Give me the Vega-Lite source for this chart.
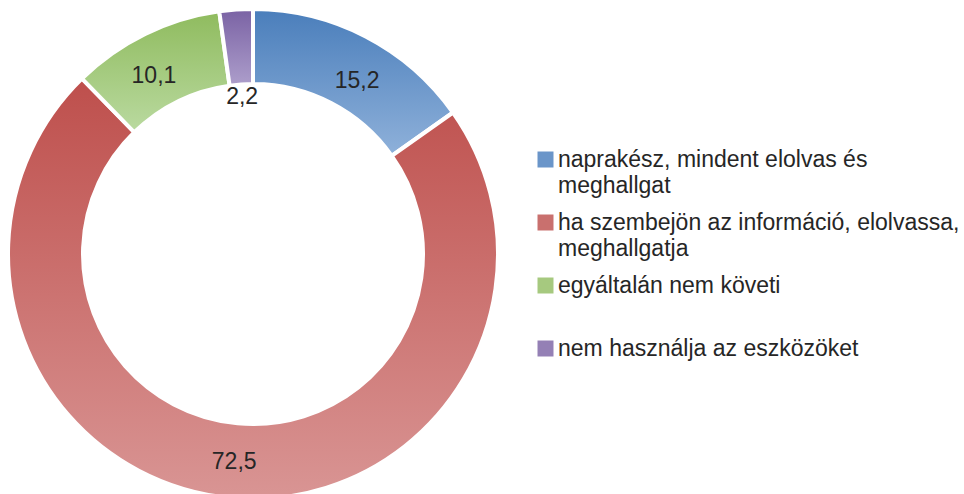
{
  "$schema": "https://vega.github.io/schema/vega-lite/v6.json",
  "width": 502,
  "height": 508,
  "padding": 0,
  "autosize": {"type": "pad"},
  "background": "white",
  "config": {
    "view": {"stroke": null},
    "font": "Liberation Sans",
    "locale": {"number": {"decimal": ",", "thousands": " ", "grouping": [3], "currency": ["", " Ft"]}}
  },
  "data": {
    "values": [
      {"category": "naprakész, mindent elolvas és meghallgat", "value": 15.2, "order": 1},
      {"category": "ha szembejön az információ, elolvassa, meghallgatja", "value": 72.5, "order": 2},
      {"category": "egyáltalán nem követi", "value": 10.1, "order": 3},
      {"category": "nem használja az eszközöket", "value": 2.2, "order": 4}
    ]
  },
  "transform": [
    {"stack": "value", "groupby": [], "sort": [{"field": "order", "order": "ascending"}], "as": ["v0", "v1"]}
  ],
  "layer": [
    {
      "mark": {"type": "arc", "outerRadius": 245, "innerRadius": 170, "opacity": 0},
      "encoding": {
        "theta": {"field": "v0", "type": "quantitative", "scale": {"domain": [0, 100]}},
        "theta2": {"field": "v1"},
        "color": {
          "field": "category",
          "type": "nominal",
          "scale": {
            "domain": ["naprakész, mindent elolvas és meghallgat", "ha szembejön az információ, elolvassa, meghallgatja", "egyáltalán nem követi", "nem használja az eszközöket"],
            "range": ["#6a95c9", "#c9706e", "#a6c97f", "#9480b5"]
          },
          "legend": {
            "orient": "none",
            "legendX": 532,
            "legendY": 148,
            "title": null,
            "symbolType": "square",
            "symbolSize": 256,
            "symbolOpacity": 1,
            "symbolStrokeWidth": 0,
            "labelFontSize": 23,
            "labelFont": "Liberation Sans",
            "labelColor": "#262626",
            "labelLimit": 0,
            "labelOffset": 1,
            "rowPadding": 13,
            "labelExpr": "datum.label == 'naprakész, mindent elolvas és meghallgat' ? ['naprakész, mindent elolvas és', 'meghallgat'] : datum.label == 'ha szembejön az információ, elolvassa, meghallgatja' ? ['ha szembejön az információ, elolvassa,', 'meghallgatja'] : datum.label == 'egyáltalán nem követi' ? ['egyáltalán nem követi', ''] : datum.label",
            "encode": {
              "labels": {"update": {"lineHeight": {"value": 26}}}
            }
          }
        }
      }
    },
    {
      "transform": [{"filter": "datum.order == 1"}],
      "mark": {"type": "arc", "outerRadius": 245, "innerRadius": 170, "stroke": "white", "strokeWidth": 4,
        "color": {"gradient": "linear", "x1": 0, "y1": 0, "x2": 0, "y2": 1, "stops": [{"offset": 0, "color": "#4a7ebb"}, {"offset": 1, "color": "#8fb1da"}]}},
      "encoding": {
        "theta": {"field": "v0", "type": "quantitative", "scale": {"domain": [0, 100]}},
        "theta2": {"field": "v1"}
      }
    },
    {
      "transform": [{"filter": "datum.order == 2"}],
      "mark": {"type": "arc", "outerRadius": 245, "innerRadius": 170, "stroke": "white", "strokeWidth": 4,
        "color": {"gradient": "linear", "x1": 0, "y1": 0, "x2": 0, "y2": 1, "stops": [{"offset": 0, "color": "#be4f4c"}, {"offset": 1, "color": "#d99594"}]}},
      "encoding": {
        "theta": {"field": "v0", "type": "quantitative", "scale": {"domain": [0, 100]}},
        "theta2": {"field": "v1"}
      }
    },
    {
      "transform": [{"filter": "datum.order == 3"}],
      "mark": {"type": "arc", "outerRadius": 245, "innerRadius": 170, "stroke": "white", "strokeWidth": 4,
        "color": {"gradient": "linear", "x1": 0, "y1": 0, "x2": 0, "y2": 1, "stops": [{"offset": 0, "color": "#8fbb5e"}, {"offset": 1, "color": "#badaa0"}]}},
      "encoding": {
        "theta": {"field": "v0", "type": "quantitative", "scale": {"domain": [0, 100]}},
        "theta2": {"field": "v1"}
      }
    },
    {
      "transform": [{"filter": "datum.order == 4"}],
      "mark": {"type": "arc", "outerRadius": 245, "innerRadius": 170, "stroke": "white", "strokeWidth": 4,
        "color": {"gradient": "linear", "x1": 0, "y1": 0, "x2": 0, "y2": 1, "stops": [{"offset": 0, "color": "#7a62a4"}, {"offset": 1, "color": "#ad9ecb"}]}},
      "encoding": {
        "theta": {"field": "v0", "type": "quantitative", "scale": {"domain": [0, 100]}},
        "theta2": {"field": "v1"}
      }
    },
    {
      "mark": {"type": "text", "radius": 207, "dx": 9, "dy": 11, "fontSize": 23, "font": "Liberation Sans", "color": "#262626"},
      "encoding": {
        "theta": {"field": "value", "type": "quantitative", "stack": true},
        "order": {"field": "order"},
        "text": {"field": "value", "type": "quantitative", "format": ".1f", "condition": {"test": "datum.order != 1", "value": ""}}
      }
    },
    {
      "mark": {"type": "text", "radius": 207, "dy": 2, "fontSize": 23, "font": "Liberation Sans", "color": "#262626"},
      "encoding": {
        "theta": {"field": "value", "type": "quantitative", "stack": true},
        "order": {"field": "order"},
        "text": {"field": "value", "type": "quantitative", "format": ".1f", "condition": {"test": "datum.order != 2", "value": ""}}
      }
    },
    {
      "mark": {"type": "text", "radius": 207, "dx": -8, "dy": 8, "fontSize": 23, "font": "Liberation Sans", "color": "#262626"},
      "encoding": {
        "theta": {"field": "value", "type": "quantitative", "stack": true},
        "order": {"field": "order"},
        "text": {"field": "value", "type": "quantitative", "format": ".1f", "condition": {"test": "datum.order != 3", "value": ""}}
      }
    },
    {
      "mark": {"type": "text", "radius": 157, "fontSize": 23, "font": "Liberation Sans", "color": "#262626"},
      "encoding": {
        "theta": {"field": "value", "type": "quantitative", "stack": true},
        "order": {"field": "order"},
        "text": {"field": "value", "type": "quantitative", "format": ".1f", "condition": {"test": "datum.order != 4", "value": ""}}
      }
    }
  ]
}
